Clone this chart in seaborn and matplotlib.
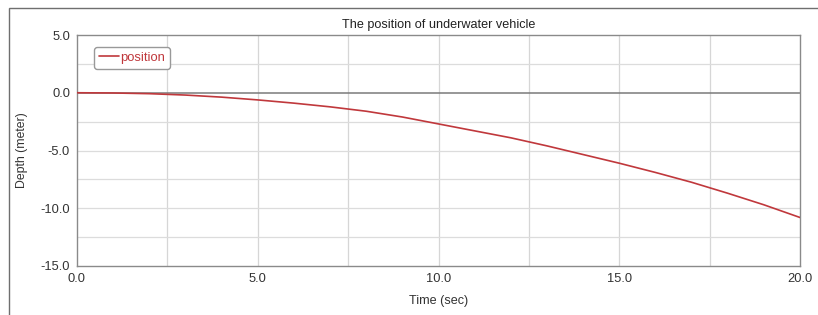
import pandas as pd
import seaborn as sns
import matplotlib.pyplot as plt
from matplotlib.patches import Rectangle

# values
time_sec = [0, 1, 2, 3, 4, 5, 6, 7, 8, 9, 10, 11, 12, 13, 14, 15, 16, 17, 18, 19, 20]
depth_m = [0.0, -0.02, -0.08, -0.2, -0.38, -0.62, -0.9, -1.22, -1.6, -2.1, -2.7,
           -3.3, -3.9, -4.6, -5.35, -6.1, -6.9, -7.75, -8.7, -9.7, -10.8]
x_ticks = [0.0, 5.0, 10.0, 15.0, 20.0]
y_ticks = [-15.0, -10.0, -5.0, 0.0, 5.0]

df = pd.DataFrame({'Time (sec)': time_sec, 'Depth (meter)': depth_m})

sns.set_style("white")
plt.rcParams['font.family'] = ['Liberation Sans', 'DejaVu Sans']

fig = plt.figure(figsize=(8.18, 3.15), dpi=100)
ax = fig.add_axes([77 / 818, 1 - 266 / 315, (800 - 77) / 818, (266 - 35) / 315])

# grid every 2.5 units, light gray
for v in [2.5, 5, 7.5, 10, 12.5, 15, 17.5]:
    ax.axvline(v, color='#d6d6d6', lw=0.9, zorder=0)
for v in [2.5, -2.5, -5, -7.5, -10, -12.5]:
    ax.axhline(v, color='#dcdcdc', lw=0.9, zorder=0)
ax.axhline(0, color='#7a7a7a', lw=1.1, zorder=1)

sns.lineplot(data=df, x='Time (sec)', y='Depth (meter)', color='#c0383c', lw=1.2,
             label='position', ax=ax, zorder=3)

ax.set_xlim(0, 20)
ax.set_ylim(-15, 5)
ax.set_xticks(x_ticks)
ax.set_yticks(y_ticks)
ax.set_xticks([2.5, 7.5, 12.5, 17.5], minor=True)
ax.set_yticks([2.5, -2.5, -7.5, -12.5], minor=True)
ax.set_xticklabels([f'{v:.1f}' for v in x_ticks])
ax.set_yticklabels([f'{v:.1f}' for v in y_ticks])
ax.tick_params(axis='both', which='both', length=3, width=0.8, color='#888888',
               labelsize=9.3, labelcolor='#333333', pad=2, direction='out')
ax.tick_params(axis='x', which='major', length=0, pad=5)
for s in ax.spines.values():
    s.set_color('#8a8a8a')
    s.set_linewidth(1.0)

ax.set_xlabel('Time (sec)', fontsize=9.1, color='#333333', labelpad=7)
ax.set_ylabel('Depth (meter)', fontsize=8.8, color='#333333', labelpad=9)
ax.set_title('The position of underwater vehicle', fontsize=9.1, color='#222222', pad=5)

leg = ax.legend(loc='upper left', bbox_to_anchor=(0.015, 0.975), fontsize=9.4,
                handlelength=1.55, handletextpad=0.1, borderpad=0.35,
                fancybox=True, framealpha=1, edgecolor='#999999')
for t in leg.get_texts():
    t.set_color('#c0383c')

# outer frame of the original window
fig.add_artist(Rectangle((9 / 818, -0.05), 1.0, 1 - 8 / 315 + 0.05, transform=fig.transFigure,
                         fill=False, edgecolor='#6f6f6f', lw=1.0))

plt.savefig('out.png', dpi=100)
